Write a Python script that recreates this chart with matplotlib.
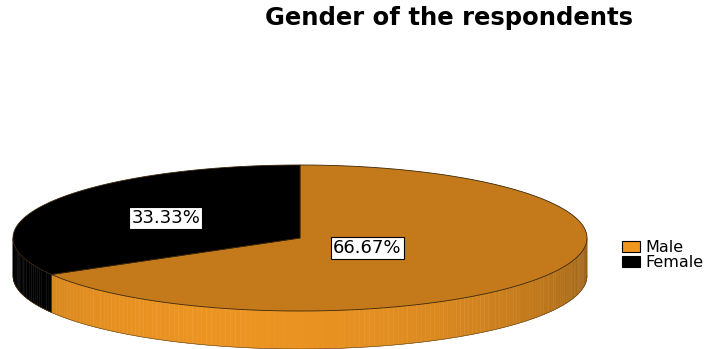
import numpy as np
import matplotlib
matplotlib.use("Agg")
import matplotlib.pyplot as plt
from matplotlib.patches import Polygon, Patch

# ---- data ----
categories = ["Male", "Female"]
values = [66.67, 33.33]
top_colors = ["#C47A1A", "#000000"]
side_colors = ["#EC9422", "#000000"]
legend_colors = ["#F0961E", "#000000"]
label_radius = [0.27, 0.54]
title = "Gender of the respondents"

# ---- layout (pixel coordinates) ----
W, H = 712, 349
cx, cy, rx, ry, depth = 300, 238, 287, 73, 38

fig = plt.figure(figsize=(W / 100, H / 100), dpi=100)
ax = fig.add_axes([0, 0, 1, 1])
ax.set_xlim(0, W)
ax.set_ylim(H, 0)
ax.axis("off")


def pt(theta_deg, r=1.0):
    t = np.deg2rad(theta_deg)
    return cx + r * rx * np.cos(t), cy - r * ry * np.sin(t)


total = float(sum(values))
start = 90.0
wedges = []
for v in values:
    sweep = 360.0 * v / total
    wedges.append((start - sweep, start))  # clockwise
    start -= sweep

# side faces (front half: angles in [-180, 0])
for (a1, a2), col in zip(wedges, side_colors):
    base = np.array(matplotlib.colors.to_rgb(col))
    for shift in (0, -360, 360):
        lo, hi = max(a1 + shift, -180), min(a2 + shift, 0)
        if lo >= hi:
            continue
        n = max(2, int((hi - lo) / 1.0))
        ths = np.linspace(lo, hi, n + 1)
        for t0, t1 in zip(ths[:-1], ths[1:]):
            tm = 0.5 * (t0 + t1)
            f = 0.72 + 0.28 * (-np.sin(np.deg2rad(tm + 15)))
            c = np.clip(base * f, 0, 1)
            x0, y0 = pt(t0)
            x1, y1 = pt(t1)
            ax.add_patch(Polygon([(x0, y0), (x1, y1), (x1, y1 + depth), (x0, y0 + depth)],
                                 closed=True, facecolor=c, edgecolor=c, linewidth=0.3))

# bottom outline of side
ths = np.linspace(-180, 0, 200)
bx, by = zip(*[pt(t) for t in ths])
ax.plot(bx, np.array(by) + depth, color="#5a3a10", linewidth=0.4)

# top faces
for (a1, a2), col in zip(wedges, top_colors):
    ths = np.linspace(a1, a2, 300)
    pts = [(cx, cy)] + [pt(t) for t in ths]
    ax.add_patch(Polygon(pts, closed=True, facecolor=col, edgecolor="#3a2508", linewidth=0.6))

# percentage labels
for (a1, a2), v, r in zip(wedges, values, label_radius):
    x, y = pt(0.5 * (a1 + a2), r)
    ax.text(x, y, f"{v:.2f}%", ha="center", va="center", fontsize=13,
            color="black", family="DejaVu Sans",
            bbox=dict(boxstyle="square,pad=0.12", facecolor="white", edgecolor="black", linewidth=0.8))

# title
ax.text(449, 18, title, ha="center", va="center", fontsize=17.5, fontweight="bold",
        family="DejaVu Sans", color="black")

# legend
handles = [Patch(facecolor=c, edgecolor="black", linewidth=0.8, label=l)
           for c, l in zip(legend_colors, categories)]
ax.legend(handles=handles, loc="upper left", bbox_to_anchor=(622 / W, 1 - 240 / H),
          frameon=False, handlelength=1.15, handleheight=0.7, labelspacing=0.02,
          borderpad=0, borderaxespad=0, handletextpad=0.3,
          prop={"family": "DejaVu Sans", "size": 11.5})

fig.savefig("out.png", dpi=100)
